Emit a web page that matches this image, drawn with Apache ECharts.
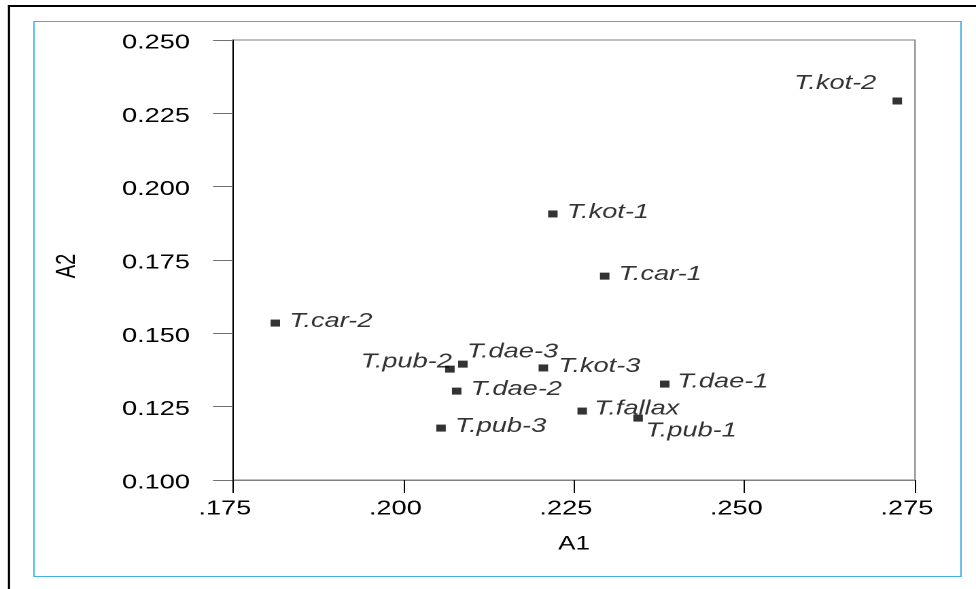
<!DOCTYPE html>
<html>
<head>
<meta charset="utf-8">
<script src="https://cdn.jsdelivr.net/npm/echarts@6/dist/echarts.min.js"></script>
<style>
  html, body { margin: 0; padding: 0; background: #fff; overflow: hidden; }
  #wrap { width: 976px; height: 589px; overflow: hidden; position: relative; }
  #chart { width: 718px; height: 589px; transform-origin: 0 0; }
</style>
</head>
<body>
<div id="wrap"><div id="chart"></div></div>
<script>
// ---- data ----
const names = ['T.kot-2', 'T.kot-1', 'T.car-1', 'T.car-2', 'T.pub-2', 'T.dae-3',
               'T.kot-3', 'T.dae-2', 'T.dae-1', 'T.fallax', 'T.pub-1', 'T.pub-3'];
const a1 = [0.2724, 0.2219, 0.2295, 0.1812, 0.2068, 0.2087,
            0.2205, 0.2078, 0.2383, 0.2262, 0.2344, 0.2055];
const a2 = [0.2292, 0.1907, 0.1695, 0.1535, 0.1378, 0.1395,
            0.1382, 0.1303, 0.1327, 0.1235, 0.1211, 0.1177];
const xTickLabels = ['.175', '.200', '.225', '.250', '.275'];
const yTickLabels = ['0.100', '0.125', '0.150', '0.175', '0.200', '0.225', '0.250'];

// ---- layout (picture is horizontally stretched) ----
const S = 976 / 718;
document.getElementById('chart').style.transform = 'scaleX(' + S + ')';
const X = v => v / S;

// label placement relative to marker centre: [dx, dy, align]
const defaultPlace = [10.3, -1.5, 'left'];
const labelPlace = {
  'T.kot-2': [-15.4, -17.5, 'right'],
  'T.pub-2': [1.5, -7, 'right'],
  'T.dae-3': [3, -12, 'left'],
  'T.pub-1': [5.5, 13, 'left'],
  'T.kot-3': [11, -1.5, 'left'],
  'T.fallax': [8.8, -2, 'left'],
  'T.dae-1': [9.2, -2, 'left']
};

const xMin = 0.175, xMax = 0.275, xInt = 0.025;
const yMin = 0.100, yMax = 0.250, yInt = 0.025;

const points = names.map((n, i) => {
  const p = labelPlace[n] || defaultPlace;
  return {
    name: n,
    value: [a1[i], a2[i]],
    label: {
      position: [3.5 + p[0], 3.5 + p[1]],
      align: p[2],
      verticalAlign: 'middle'
    }
  };
});

const chart = echarts.init(document.getElementById('chart'), null, { devicePixelRatio: 2 });
chart.setOption({
  animation: false,
  backgroundColor: '#fff',
  graphic: [
    { type: 'line', silent: true, shape: { x1: X(8), y1: 6, x2: 718, y2: 6 },
      style: { stroke: '#000', lineWidth: 2 } },
    { type: 'line', silent: true, shape: { x1: X(9), y1: 5, x2: X(9), y2: 589 },
      style: { stroke: '#000', lineWidth: 1.6 } },
    { type: 'rect', silent: true, shape: { x: X(34), y: 21.5, width: X(961 - 34), height: 555 },
      style: { stroke: '#3eb1e6', fill: null, lineWidth: 1 } }
  ],
  grid: {
    left: X(233), right: 718 - X(915), top: 40, bottom: 109,
    show: true, borderColor: '#808080', borderWidth: 1, backgroundColor: 'transparent'
  },
  xAxis: {
    type: 'value', min: xMin, max: xMax, interval: xInt,
    name: 'A1', nameLocation: 'middle', nameGap: 55,
    nameTextStyle: { fontFamily: 'Liberation Sans, Arial, sans-serif', fontSize: 19, color: '#000' },
    axisLine: { show: true, onZero: false, lineStyle: { color: '#808080', width: 1 } },
    axisTick: { show: true, inside: false, length: 13, lineStyle: { color: '#000', width: 1 } },
    axisLabel: {
      margin: 19, fontFamily: 'Liberation Sans, Arial, sans-serif', fontSize: 20, color: '#000',
      padding: [0, 12, 0, 0],
      formatter: v => xTickLabels[Math.round((v - xMin) / xInt)]
    },
    splitLine: { show: false }
  },
  yAxis: {
    type: 'value', min: yMin, max: yMax, interval: yInt,
    name: 'A2', nameLocation: 'middle', nameGap: 112,
    nameTextStyle: { fontFamily: 'Liberation Sans, Arial, sans-serif', fontSize: 20, color: '#000',
      padding: [0, 12, 0, 0] },
    axisLine: { show: true, onZero: false, lineStyle: { color: '#000', width: 1 } },
    axisTick: { show: true, inside: false, length: X(20), lineStyle: { color: '#707070', width: 1 } },
    axisLabel: {
      margin: X(43), fontFamily: 'Liberation Sans, Arial, sans-serif', fontSize: 20, color: '#000',
      verticalAlign: 'top', lineHeight: 6,
      formatter: v => yTickLabels[Math.round((v - yMin) / yInt)]
    },
    splitLine: { show: false }
  },
  series: [{
    type: 'scatter',
    symbol: 'rect',
    symbolSize: 7,
    itemStyle: { color: '#000' },
    label: {
      show: true,
      formatter: p => p.name,
      fontFamily: 'Liberation Sans, Arial, sans-serif',
      fontStyle: 'italic',
      fontSize: 20,
      color: '#000'
    },
    data: points
  }]
});
</script>
</body>
</html>
